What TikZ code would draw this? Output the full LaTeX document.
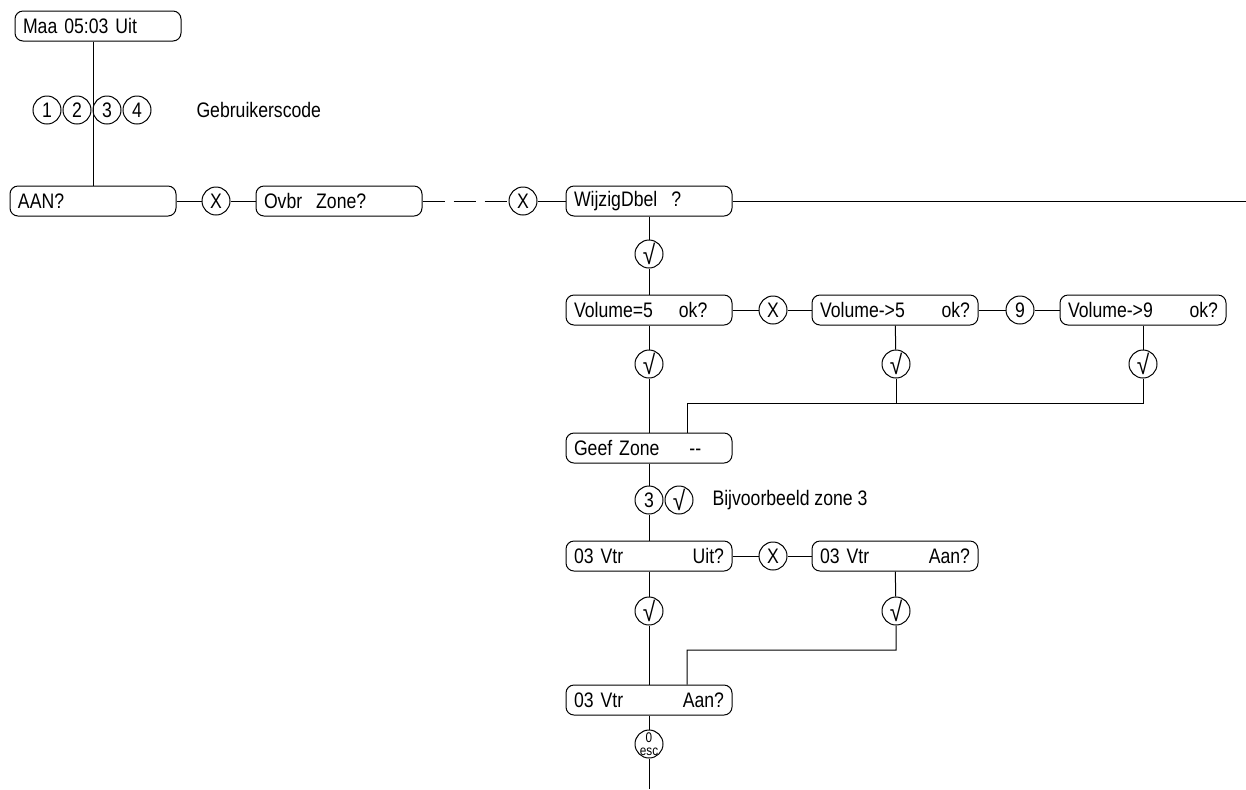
\documentclass[tikz,border=0pt]{standalone}
\usepackage{fontspec}
\setmainfont{Liberation Sans}[FakeStretch=0.84]
\begin{document}
\begin{tikzpicture}[x=0.5pt,y=-0.5pt, line width=0.5pt,
  box/.style={draw, rounded corners=4pt, minimum height=15pt, text width=75pt,
    inner xsep=4pt, inner ysep=0pt, align=left, font=\fontsize{10.5}{12}\selectfont},
  key/.style={draw, circle, minimum size=14pt, inner sep=0pt, font=\fontsize{10.5}{12}\selectfont},
  chk/.style={key, inner sep=-4pt, font=\fontsize{13.5}{14}\selectfont},
  lbl/.style={anchor=west, inner sep=0pt, font=\fontsize{10.5}{12}\selectfont}]
\useasboundingbox (0,0) rectangle (1246,789);
% top
\node[box] (maa) at (98,26) {Maa 05:03 Uit};
\node[key] (k1) at (47,110) {1};
\node[key] (k2) at (77,110) {2};
\node[key] (k3a) at (107,110) {3};
\node[key] (k4) at (137,110) {4};
\node[lbl] (gc) at (196,110) {Gebruikerscode};
% main row
\node[box] (aan) at (93,201) {AAN?};
\node[key] (x1) at (216,201) {X};
\node[box] (ovbr) at (339,201) {Ovbr\ \ Zone?};
\node[key] (x2) at (523,201) {X};
\node[box] (wijzig) at (649,201) {WijzigDbel\ \ ?};
\coordinate (rend) at (1246,201);
% volume row
\node[chk] (c1) at (649,254) {√};
\node[box] (vol5) at (649,310) {Volume=5\hspace{13pt}ok?};
\node[key] (x3) at (773,310) {X};
\node[box] (volto5) at (895,310) {Volume->5\hspace{0pt plus 1fill}ok?\hspace*{3pt}};
\node[key] (k9) at (1020,310) {9};
\node[box] (volto9) at (1143,310) {Volume->9\hspace{0pt plus 1fill}ok?\hspace*{3pt}};
\node[chk] (c2) at (649,364) {√};
\node[chk] (c3) at (896,364) {√};
\node[chk] (c4) at (1143,364) {√};
\coordinate (j1) at (687,403);
\node[box] (geef) at (649,448) {Geef Zone\hspace{15pt}-{}-};
% zone row
\node[key] (k3) at (649,500) {3};
\node[chk] (c5) at (679,500) {√};
\node[lbl] (bz) at (712,500) {Bijvoorbeeld zone 3};
\node[box] (vtr1) at (649,556) {03 Vtr\hspace{0pt plus 1fill}Uit?\hspace*{3pt}};
\node[key] (x4) at (773,556) {X};
\node[box] (vtr2) at (895,556) {03 Vtr\hspace{0pt plus 1fill}Aan?\hspace*{3pt}};
\node[chk] (c6) at (649,611) {√};
\node[chk] (c7) at (896,611) {√};
\coordinate (j2) at (687,650);
\node[box] (vtr3) at (649,700) {03 Vtr\hspace{0pt plus 1fill}Aan?\hspace*{3pt}};
\node[key, inner sep=-3pt, font=\fontsize{7}{6.5}\selectfont] (esc) at (649,744) {\shortstack{0\\esc}};
\coordinate (bend) at (649,789);
% connectors
\draw (maa.south -| aan.north) -- (aan.north);
\draw (aan) -- (x1) -- (ovbr);
\draw[dash pattern=on 11pt off 4.5pt] (ovbr) -- (x2);
\draw (x2) -- (wijzig) -- (rend);
\draw (wijzig) -- (c1) -- (vol5);
\draw (vol5) -- (x3) -- (volto5) -- (k9) -- (volto9);
\draw (vol5) -- (c2) -- (geef);
\draw (volto5) -- (c3);
\draw (volto9) -- (c4);
\draw (c3) -- (c3 |- j1);
\draw (c4) -- (c4 |- j1) -- (j1) -- (j1 |- geef.north);
\draw (geef) -- (k3) -- (vtr1);
\draw (vtr1) -- (x4) -- (vtr2);
\draw (vtr1) -- (c6) -- (vtr3);
\draw (vtr2) -- (c7) -- (c7 |- j2) -- (j2) -- (j2 |- vtr3.north);
\draw (vtr3) -- (esc) -- (bend);
\end{tikzpicture}
\end{document}
